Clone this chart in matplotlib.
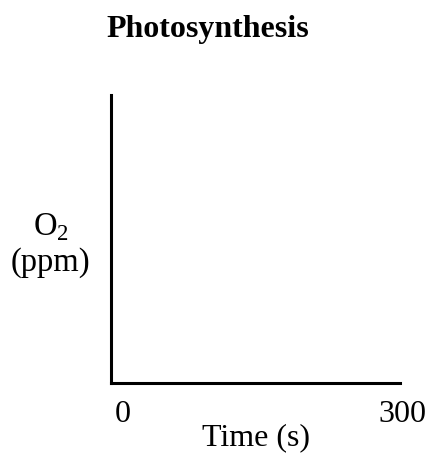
import matplotlib
matplotlib.use("Agg")
import matplotlib.pyplot as plt
import matplotlib.transforms as mtransforms

title = "Photosynthesis"
x_ticks = [0, 300]
x_tick_labels = ["0", "300"]
x_label = "Time (s)"
y_label = "O$_\\mathrm{2}$\n(ppm)"

plt.rcParams["font.family"] = ["Liberation Serif", "DejaVu Serif"]
plt.rcParams["mathtext.fontset"] = "custom"
plt.rcParams["mathtext.rm"] = "Liberation Serif"

fig = plt.figure(figsize=(4.29, 4.53), dpi=100)
ax = fig.add_axes([111 / 429, 1 - 383 / 453, 289 / 429, 288 / 453])

ax.set_xlim(0, 300)
ax.set_ylim(0, 1)

# 只保留左边和下边的坐标轴
for side in ["top", "right"]:
    ax.spines[side].set_visible(False)
for side in ["left", "bottom"]:
    ax.spines[side].set_linewidth(2.2)
    ax.spines[side].set_color("black")

ax.set_xticks(x_ticks)
ax.set_xticklabels(x_tick_labels, fontsize=23)
ax.set_yticks([])
ax.tick_params(axis="x", length=0, pad=12)

# 刻度标签的水平偏移（像素）
label_shifts = [12, 2]
for lbl, dx in zip(ax.get_xticklabels(), label_shifts):
    shift = mtransforms.ScaledTranslation(dx / 100, 0, fig.dpi_scale_trans)
    lbl.set_transform(lbl.get_transform() + shift)

ax.set_xlabel(x_label, fontsize=23, labelpad=-4)
ax.set_ylabel(y_label, fontsize=23.5, rotation=0, ha="center", va="center",
              linespacing=1.2)
ax.yaxis.set_label_coords(-0.209, 0.481)

fig.text(208 / 429, 1 - 30 / 453, title, fontsize=23, fontweight="bold",
         ha="center", va="center")

fig.savefig("out.png", dpi=100)
